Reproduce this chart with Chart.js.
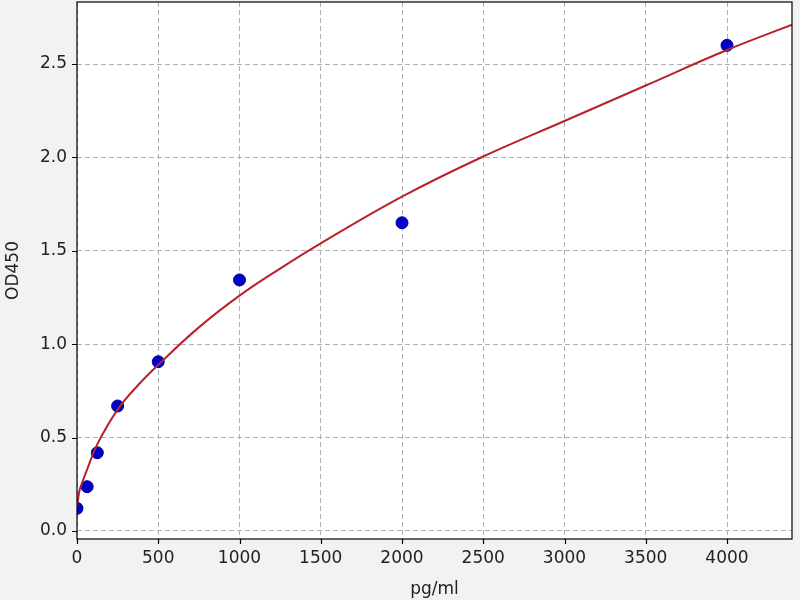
<!DOCTYPE html>
<html>
<head>
<meta charset="utf-8">
<script src="https://cdn.jsdelivr.net/npm/chart.js@4.4.0/dist/chart.umd.min.js"></script>
<style>
  html, body { margin: 0; padding: 0; background: #f2f2f2; }
  #wrap { width: 800px; height: 600px; }
</style>
</head>
<body>
<div id="wrap"><canvas id="c" width="800" height="600"></canvas></div>
<script>
// standards (pg/ml) and measured OD450
const concs = [0, 62.5, 125, 250, 500, 1000, 2000, 4000];
const ods = [0.121, 0.237, 0.419, 0.669, 0.906, 1.344, 1.65, 2.60];

// fitted curve
const fitX = [0, 15, 30, 62.5, 125, 250, 375, 500, 750, 1000, 1250, 1500, 2000, 2500, 3000, 3500, 4000, 4400];
const fitY = [0.13, 0.215, 0.255, 0.33, 0.465, 0.65, 0.78, 0.89, 1.09, 1.26, 1.405, 1.54, 1.79, 2.005, 2.195, 2.385, 2.575, 2.71];

const xTicks = [0, 500, 1000, 1500, 2000, 2500, 3000, 3500, 4000];
const yTicks = [0.0, 0.5, 1.0, 1.5, 2.0, 2.5];

const font = { family: 'DejaVu Sans', size: 17 };
const gridColor = '#b0b0b0';

// white plot area, black frame and solid outward tick marks
const plotFrame = {
    id: 'plotFrame',
    beforeDraw(chart) {
        const { ctx, chartArea: a } = chart;
        ctx.save();
        ctx.fillStyle = '#ffffff';
        ctx.fillRect(a.left, a.top, a.right - a.left, a.bottom - a.top);
        ctx.restore();
    },
    afterDraw(chart) {
        const { ctx, chartArea: a, scales } = chart;
        ctx.save();
        ctx.strokeStyle = '#000';
        ctx.lineWidth = 1.2;
        ctx.strokeRect(a.left, a.top, a.right - a.left, a.bottom - a.top);
        ctx.beginPath();
        xTicks.forEach(v => {
            const px = Math.round(scales.x.getPixelForValue(v)) + 0.5;
            ctx.moveTo(px, a.bottom);
            ctx.lineTo(px, a.bottom + 5);
        });
        yTicks.forEach(v => {
            const py = Math.round(scales.y.getPixelForValue(v)) + 0.5;
            ctx.moveTo(a.left, py);
            ctx.lineTo(a.left - 5, py);
        });
        ctx.stroke();
        ctx.restore();
    }
};

new Chart(document.getElementById('c'), {
    type: 'scatter',
    data: {
        datasets: [
            {
                label: 'fit',
                data: fitX.map((x, i) => ({ x, y: fitY[i] })),
                showLine: true,
                borderColor: '#b8232b',
                borderWidth: 2,
                pointRadius: 0,
                tension: 0.4,
                clip: 0
            },
            {
                label: 'std',
                data: concs.map((x, i) => ({ x, y: ods[i] })),
                backgroundColor: '#0000c8',
                borderColor: '#0000a0',
                borderWidth: 1,
                pointRadius: 6,
                clip: 0
            }
        ]
    },
    options: {
        responsive: false,
        animation: false,
        layout: { autoPadding: false, padding: { top: 2, right: 8, left: 0, bottom: 0 } },
        plugins: { legend: { display: false }, tooltip: { enabled: false } },
        scales: {
            x: {
                type: 'linear', min: 0, max: 4400,
                afterBuildTicks: s => { s.ticks = xTicks.map(v => ({ value: v })); },
                afterFit: s => { s.height = 61; s.paddingLeft = 0; s.paddingRight = 0; },
                grid: { color: gridColor, tickColor: 'rgba(0,0,0,0)', tickLength: 5 },
                border: { display: false, dash: [5, 3] },
                ticks: { color: '#222', font, padding: 4, maxRotation: 0, callback: v => String(v) },
                title: { display: true, text: 'pg/ml', color: '#222', font, padding: { top: 0, bottom: 0 } }
            },
            y: {
                type: 'linear', min: -0.043, max: 2.832,
                afterBuildTicks: s => { s.ticks = yTicks.map(v => ({ value: v })); },
                afterFit: s => { s.width = 77; s.paddingTop = 0; s.paddingBottom = 0; },
                grid: { color: gridColor, tickColor: 'rgba(0,0,0,0)', tickLength: 5 },
                border: { display: false, dash: [5, 3] },
                ticks: { color: '#222', font, padding: 5, callback: v => v.toFixed(1) },
                title: { display: true, text: 'OD450', color: '#222', font, padding: { top: 3, bottom: 0 } }
            }
        }
    },
    plugins: [plotFrame]
});
</script>
</body>
</html>
